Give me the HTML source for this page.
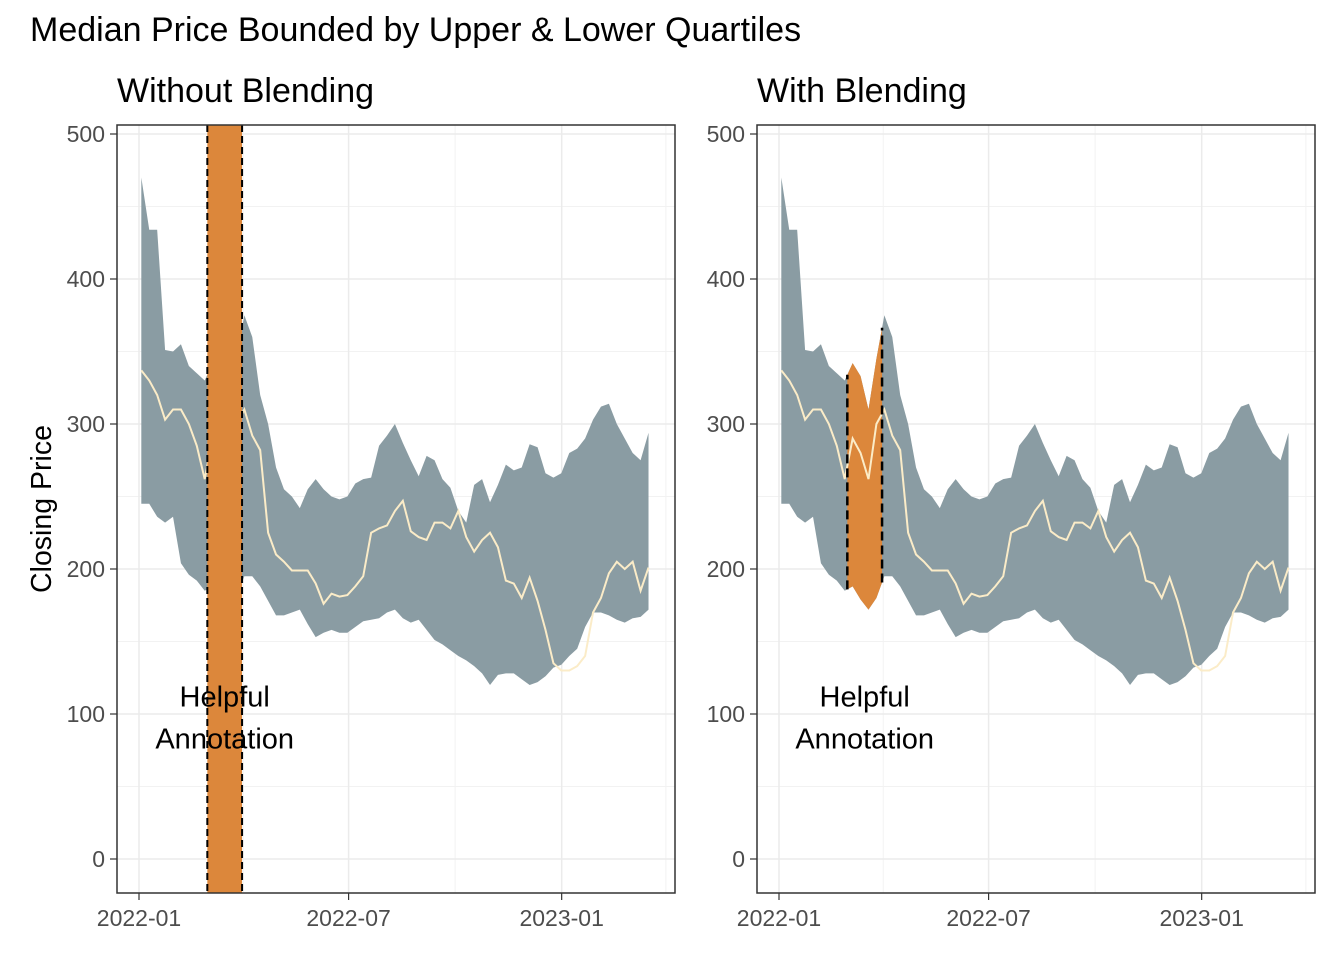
<!DOCTYPE html>
<html><head><meta charset="utf-8"><style>
html,body{margin:0;padding:0;background:#fff}
svg{display:block;font-family:"Liberation Sans",Arial,sans-serif}
</style></head><body>
<svg id="chart" width="1344" height="960" viewBox="0 0 1344 960" xmlns="http://www.w3.org/2000/svg">
<text x="30" y="41" font-size="34" fill="#000">Median Price Bounded by Upper &amp; Lower Quartiles</text>
<text transform="translate(51,509) rotate(-90)" text-anchor="middle" font-size="28.5" fill="#000">Closing Price</text>
<g id="panels"></g>
</svg>
<script>
const startDate = '2022-01-03';
const endDate = '2023-03-17';
const upperQ = [470,434,434,351,350,355,340,335,330,342,333,310,345,375,360,320,300,270,255,250,242,255,262,255,250,248,250,259,262,263,285,292,300,287,275,264,278,275,262,256,240,232,258,262,246,258,272,268,270,286,284,266,263,266,280,283,290,303,312,314,300,290,280,275,294];
const lowerQ = [245,245,236,232,236,204,196,192,185,188,179,172,180,195,195,188,178,168,168,170,172,162,153,156,158,156,156,160,164,165,166,170,172,166,163,165,158,151,148,144,140,137,133,128,120,127,128,128,124,120,122,126,132,134,140,145,160,170,170,168,165,163,166,167,172];
const medianP = [337,330,320,303,310,310,300,285,262,290,280,262,300,310,292,282,225,210,205,199,199,199,190,176,183,181,182,188,195,225,228,230,240,247,226,222,220,232,232,228,240,222,212,220,225,215,192,190,180,194,178,158,135,130,130,133,140,170,180,197,205,200,205,185,201];
const yTicks = [0,100,200,300,400,500];
const xTicks = ['2022-01-01','2022-07-01','2023-01-01'];
const xTickLabels = ['2022-01','2022-07','2023-01'];
const xMinor = ['2022-04-01','2022-10-01','2023-04-01'];
const bandStart = '2022-03-01', bandEnd = '2022-03-31';
const annotationLines = ['Helpful','Annotation'];
const annotationDate = '2022-03-16', annotationValue = [112, 83];

const NS='http://www.w3.org/2000/svg';
const origin = Date.parse('2022-01-01');
const dayOf = s => (Date.parse(s)-origin)/86400000;
const startDay = dayOf(startDate), endDay = dayOf(endDate);
const stepDays = (endDay-startDay)/(upperQ.length-1);
const dates = upperQ.map((_,i)=>startDay+stepDays*i);
const yS = v => 859 - v*1.45;
const TOP=125, BOT=893, W=558;
function mk(tag, attrs, parent){const e=document.createElementNS(NS,tag);for(const k in attrs)e.setAttribute(k,attrs[k]);parent.appendChild(e);return e;}
const root=document.getElementById('panels');

function panel(L, blended, title, key){
  const xS = d => L + 22 + d*1.158;
  const g = mk('g',{},root);
  
  
  const t = mk('text',{x:L,y:102,'font-size':34,fill:'#000'},g); t.textContent=title;
  
  
  [50,150,250,350,450].forEach(v=>{const l=mk('line',{x1:L,x2:L+W,y1:yS(v),y2:yS(v),stroke:'#f2f2f2','stroke-width':1},g);
     });
  xMinor.forEach(s=>{const x=xS(dayOf(s)); if(x<L+W){const l=mk('line',{x1:x,x2:x,y1:TOP,y2:BOT,stroke:'#f2f2f2','stroke-width':1},g);
     }});
  yTicks.forEach(v=>{const y=yS(v);
    const l=mk('line',{x1:L,x2:L+W,y1:y,y2:y,stroke:'#ebebeb','stroke-width':1.5},g);
     
    const tk=mk('line',{x1:L-7,x2:L,y1:y,y2:y,stroke:'#333','stroke-width':1.2},g);
     
    const tx=mk('text',{x:L-12,y:y+8,'text-anchor':'end','font-size':23,fill:'#4d4d4d'},g); tx.textContent=v;
     });
  xTicks.forEach((s,i)=>{const x=xS(dayOf(s));
    const l=mk('line',{x1:x,x2:x,y1:TOP,y2:BOT,stroke:'#ebebeb','stroke-width':1.5},g);
     
    const tk=mk('line',{x1:x,x2:x,y1:BOT,y2:BOT+7,stroke:'#333','stroke-width':1.2},g);
     
    const tx=mk('text',{x:x,y:926,'text-anchor':'middle','font-size':23,fill:'#4d4d4d'},g); tx.textContent=xTickLabels[i];
     });
  let d='M'+dates.map((dd,i)=>xS(dd)+','+yS(upperQ[i])).join('L');
  for(let i=dates.length-1;i>=0;i--) d+='L'+xS(dates[i])+','+yS(lowerQ[i]);
  d+='Z';
  const rib=mk('path',{d:d,fill:'#8a9ca3'},g);
   
  const medD='M'+dates.map((dd,i)=>xS(dd)+','+yS(medianP[i])).join('L');
  const bx1=xS(dayOf(bandStart)), bx2=xS(dayOf(bandEnd));
  const interp=(arr,day)=>{for(let i=0;i<dates.length-1;i++){if(day>=dates[i]&&day<=dates[i+1]){const f=(day-dates[i])/(dates[i+1]-dates[i]);return arr[i]+f*(arr[i+1]-arr[i]);}}return arr[0];};
  if(blended){
    const cp=mk('clipPath',{id:'clip-'+key},g);
    mk('rect',{x:bx1,y:TOP,width:bx2-bx1,height:BOT-TOP},cp);
    const o=mk('path',{d:d,fill:'#dc873b','clip-path':'url(#clip-'+key+')'},g);
     
    const m=mk('path',{d:medD,fill:'none',stroke:'#fbecc8','stroke-width':2},g);
     
    [bandStart,bandEnd].forEach(s=>{const day=dayOf(s),x=xS(day);
      const l=mk('line',{x1:x,x2:x,y1:yS(interp(lowerQ,day)),y2:yS(interp(upperQ,day)),stroke:'#000','stroke-width':2.5,'stroke-dasharray':'9,5'},g);
       });
  } else {
    const m=mk('path',{d:medD,fill:'none',stroke:'#fbecc8','stroke-width':2},g);
     
    const r=mk('rect',{x:bx1,y:TOP,width:bx2-bx1,height:BOT-TOP,fill:'#dc873b'},g);
     
    [bx1,bx2].forEach(x=>{const l=mk('line',{x1:x,x2:x,y1:TOP,y2:BOT,stroke:'#000','stroke-width':2,'stroke-dasharray':'7,4'},g);
       });
  }
  annotationLines.forEach((s,i)=>{const a=mk('text',{x:xS(dayOf(annotationDate)),y:yS(annotationValue[i])+10,'text-anchor':'middle','font-size':29,fill:'#000'},g);
    a.textContent=s;  });
  const b=mk('rect',{x:L,y:TOP,width:W,height:BOT-TOP,fill:'none',stroke:'#333','stroke-width':1.5},g);
   
}
panel(117,false,'Without Blending','without-blending');
panel(757,true,'With Blending','with-blending');
</script>
</body></html>
